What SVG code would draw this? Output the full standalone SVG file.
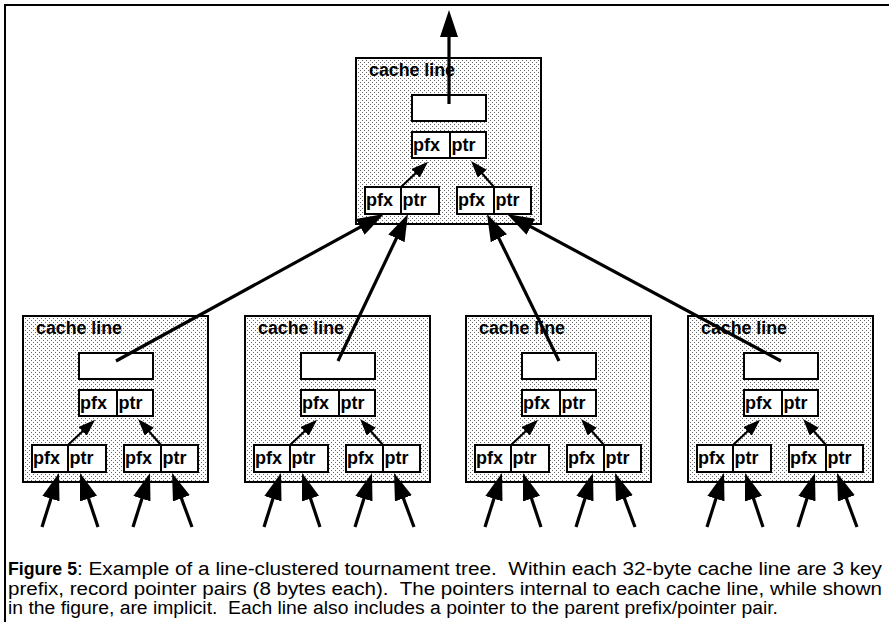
<svg xmlns="http://www.w3.org/2000/svg" width="889" height="622" viewBox="0 0 889 622">
<style>
.frame{fill:none;stroke:#000;stroke-width:2}
.cl{fill:url(#dots);stroke:#000;stroke-width:2}
.cell{fill:#fff;stroke:#000;stroke-width:2}
.div{stroke:#000;stroke-width:2}
.lbl{font-family:"Liberation Sans",Arial,sans-serif;font-weight:bold;font-size:18px;fill:#000}
.fld{font-family:"Liberation Sans",Arial,sans-serif;font-weight:bold;font-size:18px;fill:#000}
.cap{font-family:"Liberation Sans",Arial,sans-serif;font-size:18px;fill:#000;white-space:pre}
.thick{fill:none;stroke:#000;stroke-width:3.2;marker-end:url(#bigHead)}
.thin{fill:none;stroke:#000;stroke-width:2;marker-end:url(#smallHead)}
</style>
<defs>
<pattern id="dots" width="4" height="4" patternUnits="userSpaceOnUse">
<rect width="4" height="4" fill="#fff"/>
<rect x="0" y="0" width="1" height="1" fill="#666"/>
<rect x="2" y="2" width="1" height="1" fill="#666"/>
</pattern>
<marker id="bigHead" markerUnits="userSpaceOnUse" viewBox="0 0 27 18" markerWidth="27" markerHeight="18" refX="17" refY="9" orient="auto">
<path d="M0,0 L27,9 L0,18 z" fill="#000"/>
</marker>
<marker id="smallHead" markerUnits="userSpaceOnUse" viewBox="0 0 17 12" markerWidth="17" markerHeight="12" refX="11" refY="6" orient="auto">
<path d="M0,0 L17,6 L0,12 z" fill="#000"/>
</marker>
<g id="lineBody">
<rect class="cl" x="0" y="0" width="185" height="166"/>
<text class="lbl" x="13" y="18" textLength="86" lengthAdjust="spacingAndGlyphs">cache line</text>
<rect class="cell" x="56" y="37" width="74" height="26"/>
<rect class="cell" x="56" y="74" width="74" height="26"/>
<line class="div" x1="94" y1="74" x2="94" y2="100"/>
<text class="fld" x="57" y="93">pfx</text>
<text class="fld" x="95.5" y="93">ptr</text>
<rect class="cell" x="9" y="129" width="74" height="27"/>
<line class="div" x1="45" y1="129" x2="45" y2="156"/>
<text class="fld" x="10" y="148">pfx</text>
<text class="fld" x="46.5" y="148">ptr</text>
<rect class="cell" x="101" y="129" width="74" height="27"/>
<line class="div" x1="138" y1="129" x2="138" y2="156"/>
<text class="fld" x="102" y="148">pfx</text>
<text class="fld" x="139.5" y="148">ptr</text>
</g>
</defs>

<g id="frame">
<polyline class="frame" points="5,622 5,5 889,5"/>
</g>

<g id="line-root" transform="translate(356,58)"><use href="#lineBody"/></g>
<g id="line-1" transform="translate(23,316)"><use href="#lineBody"/></g>
<g id="line-2" transform="translate(245,316)"><use href="#lineBody"/></g>
<g id="line-3" transform="translate(466,316)"><use href="#lineBody"/></g>
<g id="line-4" transform="translate(688,316)"><use href="#lineBody"/></g>

<g id="connectors">
<!-- internal implicit pointers -->
<g transform="translate(356,58)"><path class="thin" d="M45,129 L67.7,107.8"/><path class="thin" d="M138,129 L119,107.5"/></g>
<g transform="translate(23,316)"><path class="thin" d="M45,129 L67.7,107.8"/><path class="thin" d="M138,129 L119,107.5"/></g>
<g transform="translate(245,316)"><path class="thin" d="M45,129 L67.7,107.8"/><path class="thin" d="M138,129 L119,107.5"/></g>
<g transform="translate(466,316)"><path class="thin" d="M45,129 L67.7,107.8"/><path class="thin" d="M138,129 L119,107.5"/></g>
<g transform="translate(688,316)"><path class="thin" d="M45,129 L67.7,107.8"/><path class="thin" d="M138,129 L119,107.5"/></g>
<!-- parent pointers -->
<path class="thick" d="M449,104 L449,20"/>
<path class="thick" d="M116,361 L375.2,218.8"/>
<path class="thick" d="M338,361 L403.7,223"/>
<path class="thick" d="M559,361 L491.4,223"/>
<path class="thick" d="M781,361 L515.8,218.7"/>
<!-- incoming pointers from below -->
<g transform="translate(23,0)"><path class="thick" d="M19,527 L33,482.5"/><path class="thick" d="M75,527 L60.2,482.5"/><path class="thick" d="M110,527 L124,482.5"/><path class="thick" d="M169,527 L152.5,482.4"/></g>
<g transform="translate(245,0)"><path class="thick" d="M19,527 L33,482.5"/><path class="thick" d="M75,527 L60.2,482.5"/><path class="thick" d="M110,527 L124,482.5"/><path class="thick" d="M169,527 L152.5,482.4"/></g>
<g transform="translate(466,0)"><path class="thick" d="M19,527 L33,482.5"/><path class="thick" d="M75,527 L60.2,482.5"/><path class="thick" d="M110,527 L124,482.5"/><path class="thick" d="M169,527 L152.5,482.4"/></g>
<g transform="translate(688,0)"><path class="thick" d="M19,527 L33,482.5"/><path class="thick" d="M75,527 L60.2,482.5"/><path class="thick" d="M110,527 L124,482.5"/><path class="thick" d="M169,527 L152.5,482.4"/></g>
</g>

<g id="caption">
<text class="cap" x="8" y="575" font-weight="bold" textLength="69" lengthAdjust="spacingAndGlyphs">Figure 5</text>
<text class="cap" x="77" y="575" textLength="805" lengthAdjust="spacingAndGlyphs">: Example of a line-clustered tournament tree.  Within each 32-byte cache line are 3 key</text>
<text class="cap" x="8" y="594.5" textLength="874" lengthAdjust="spacingAndGlyphs">prefix, record pointer pairs (8 bytes each).  The pointers internal to each cache line, while shown</text>
<text class="cap" x="8" y="614" textLength="770" lengthAdjust="spacingAndGlyphs">in the figure, are implicit.  Each line also includes a pointer to the parent prefix/pointer pair.</text>
</g>
</svg>
